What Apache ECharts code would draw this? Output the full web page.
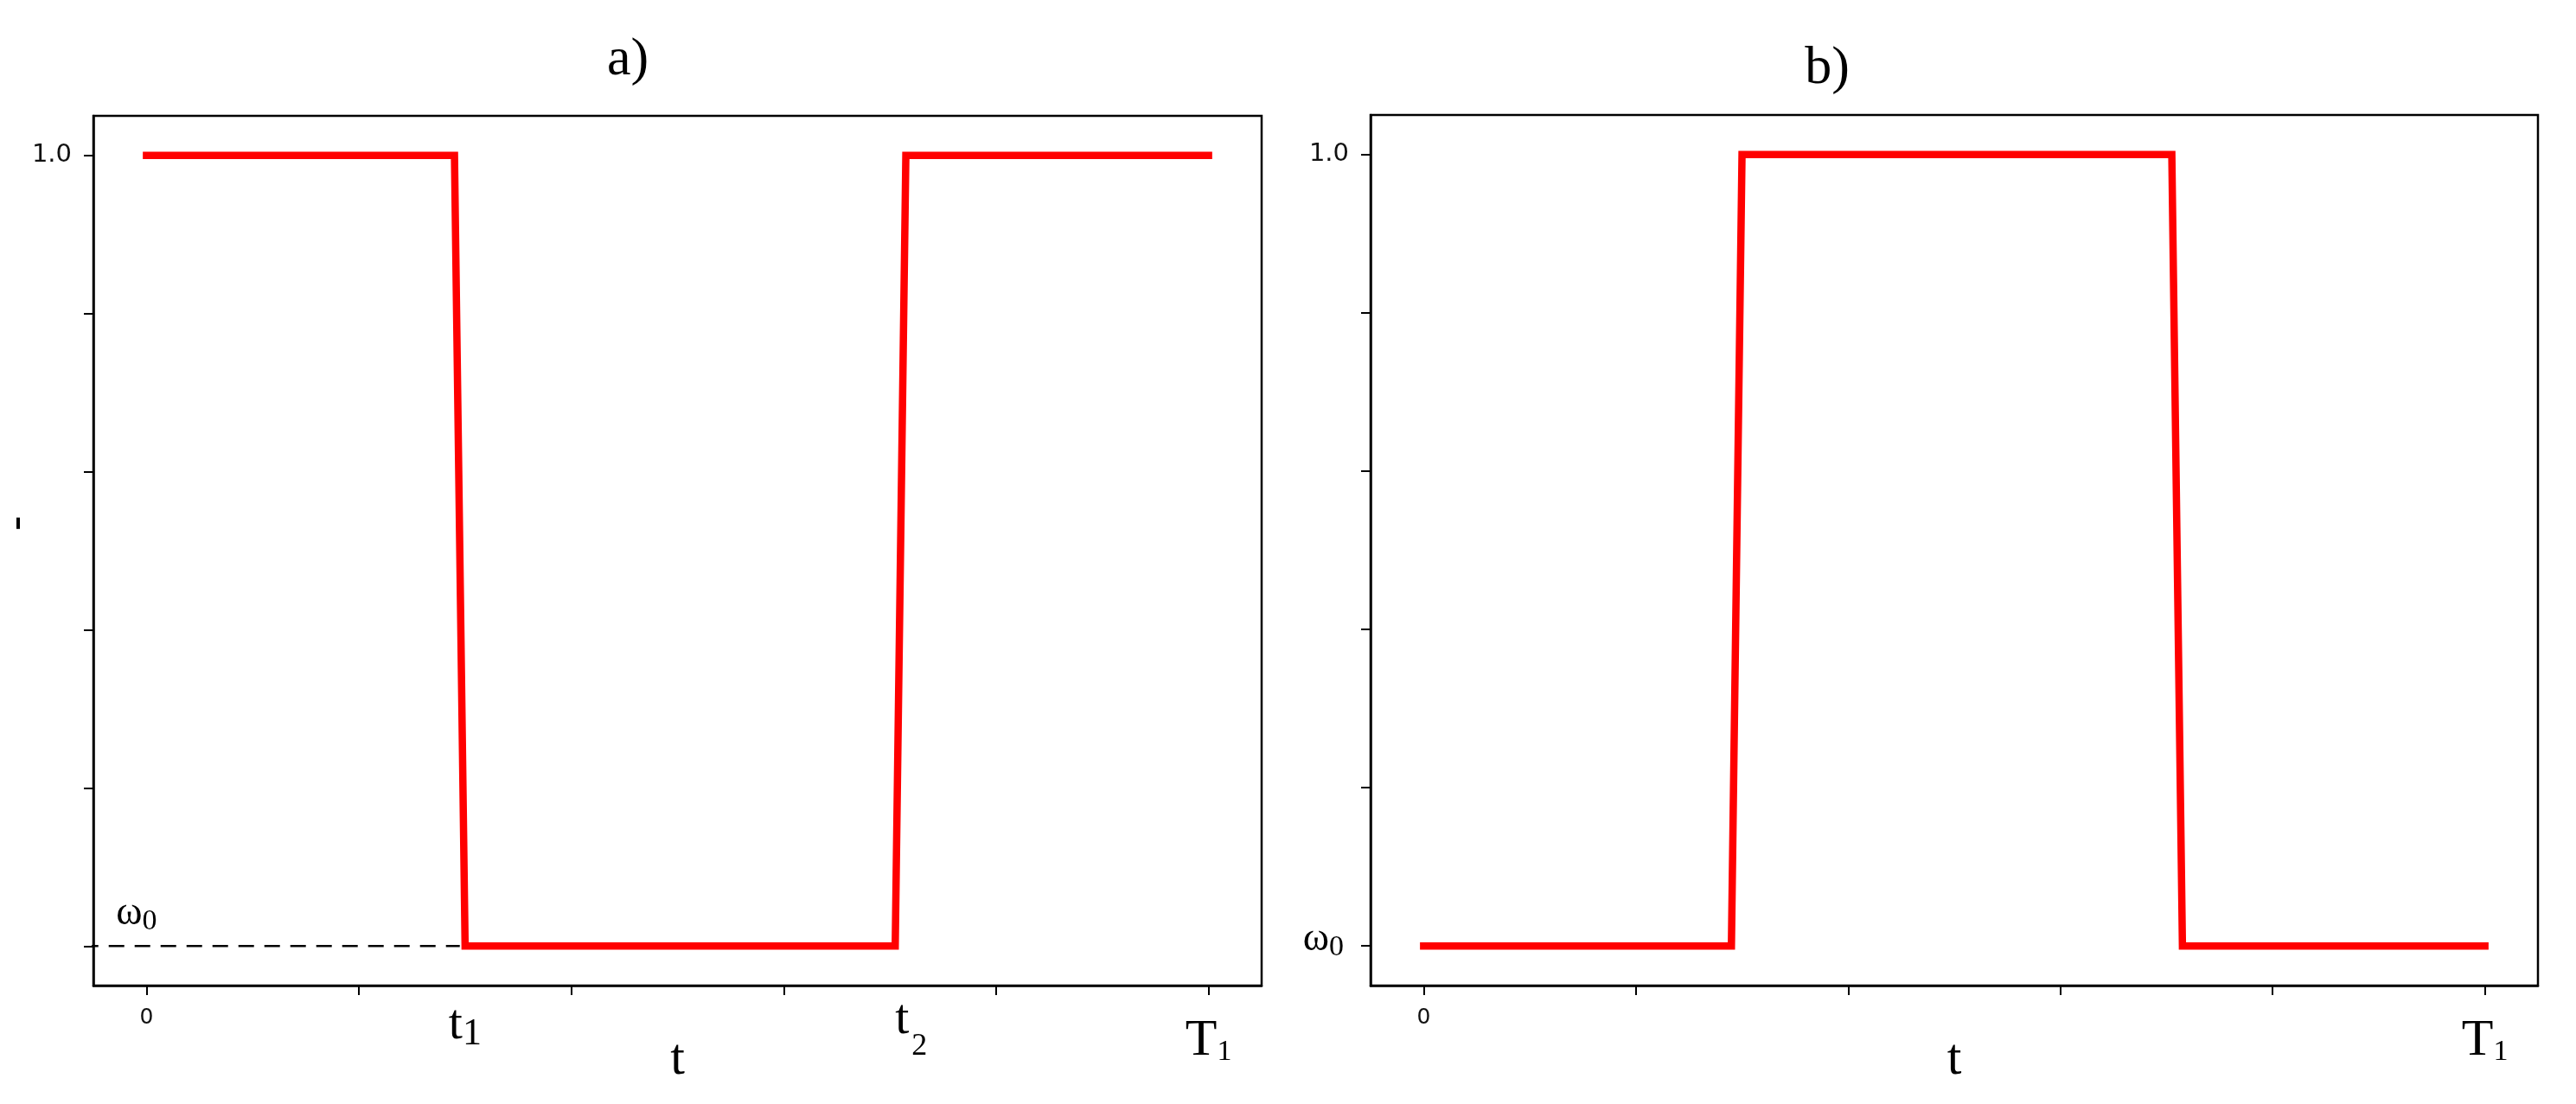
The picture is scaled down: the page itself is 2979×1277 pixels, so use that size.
<!DOCTYPE html>
<html>
<head>
<meta charset="utf-8">
<script src="https://cdn.jsdelivr.net/npm/echarts@6/dist/echarts.min.js"></script>
<style>
  html, body { margin: 0; padding: 0; background: #fff; }
  #chart { width: 2979px; height: 1277px; }
</style>
</head>
<body>
<div id="chart"></div>
<script>
// 横轴：t 归一化到 0..T1(=1)；纵轴：ω0 -> 0, 1.0 -> 1
const panelTitles = ['a)', 'b)']
const seriesA = [[0, 1], [0.29, 1], [0.30, 0], [0.705, 0], [0.715, 1], [1, 1]]
const seriesB = [[0, 0], [0.29, 0], [0.30, 1], [0.705, 1], [0.715, 0], [1, 0]]
const dashedA = [[-0.06, 0], [0.295, 0]]
const xTicks = [0, 0.2, 0.4, 0.6, 0.8, 1.0]
const yTicks = [0, 0.2, 0.4, 0.6, 0.8, 1.0]
const xLabelValuesA = [0, 0.30, 0.72, 1.0]
const xLabelTextA = ['{z|0}', '{t1|t}{s1|1}', '{t2|t}{s2|2}', '{T|T}{s3|1}']
const xLabelValuesB = [0, 1.0]
const xLabelTextB = ['{z|0}', '{T|T}{s3|1}']
const yLabelValuesA = [1.0]
const yLabelTextA = ['1.0']
const yLabelValuesB = [0, 1.0]
const yLabelTextB = ['{w|ω}{s0|0}', '1.0']

const SERIF = 'Liberation Serif'
const SANS = 'DejaVu Sans'

// 同一标签内各片段盒高一致，靠上下 padding 做下标偏移
const richX = {
  z: { fontFamily: SANS, fontSize: 25, lineHeight: 25, color: '#111', padding: [14, 0, 0, 0] },
  t1: { fontFamily: SERIF, fontSize: 58, lineHeight: 56, color: '#000', padding: [2, 0, 2, 0] },
  s1: { fontFamily: SERIF, fontSize: 44, lineHeight: 40, color: '#000', padding: [20, 0, 0, 0] },
  t2: { fontFamily: SERIF, fontSize: 58, lineHeight: 58, color: '#000', padding: [5, 0, 20, 0] },
  s2: { fontFamily: SERIF, fontSize: 36, lineHeight: 36, color: '#000', padding: [47, 0, 0, 3] },
  T: { fontFamily: SERIF, fontSize: 60, lineHeight: 60, color: '#000', padding: [33, 0, 0, 0] },
  s3: { fontFamily: SERIF, fontSize: 34, lineHeight: 34, color: '#000', padding: [59, 0, 0, 0] }
}
const richY = {
  w: { fontFamily: SERIF, fontSize: 46, lineHeight: 46, color: '#000', padding: [0, 0, 14, 0] },
  s0: { fontFamily: SERIF, fontSize: 34, lineHeight: 34, color: '#000', padding: [15, 6, 11, 0] }
}

function pick(values, texts) {
  return v => {
    const i = values.findIndex(x => Math.abs(x - v) < 1e-6)
    return i >= 0 ? texts[i] : ''
  }
}

function xAxisFor(gridIndex, labelValues, labelText) {
  return {
    gridIndex: gridIndex,
    type: 'value',
    min: -0.05,
    max: 1.05,
    name: 't',
    nameLocation: 'middle',
    nameGap: 56,
    nameMoveOverlap: false,
    nameTextStyle: { fontFamily: SERIF, fontSize: 60, lineHeight: 60, color: '#000' },
    axisLine: { show: true, onZero: false, lineStyle: { color: '#000', width: 2.5 } },
    axisTick: { show: true, length: 11, customValues: xTicks, lineStyle: { color: '#000', width: 2 } },
    axisLabel: {
      customValues: labelValues,
      margin: 18,
      formatter: pick(labelValues, labelText),
      rich: richX
    },
    splitLine: { show: false }
  }
}

function yAxisFor(gridIndex, labelValues, labelText, extra) {
  return Object.assign({
    gridIndex: gridIndex,
    type: 'value',
    min: -0.05,
    max: 1.05,
    nameMoveOverlap: false,
    axisLine: { show: true, onZero: false, lineStyle: { color: '#000', width: 2.5 } },
    axisTick: { show: true, length: 11, customValues: yTicks, lineStyle: { color: '#000', width: 2 } },
    axisLabel: {
      customValues: labelValues,
      margin: 25,
      fontFamily: SANS,
      fontSize: 29,
      color: '#111',
      formatter: pick(labelValues, labelText),
      rich: richY
    },
    splitLine: { show: false }
  }, extra || {})
}

const redLine = { color: '#ff0000', width: 8.5, cap: 'square', join: 'miter' }

const chart = echarts.init(document.getElementById('chart'), null, { renderer: 'canvas' })
chart.setOption({
  backgroundColor: '#fff',
  animation: false,
  title: [
    { text: panelTitles[0], left: 721, top: 34, textAlign: 'center',
      textStyle: { fontFamily: SERIF, fontSize: 62, fontWeight: 'normal', color: '#000' } },
    { text: panelTitles[1], left: 2108, top: 44, textAlign: 'center',
      textStyle: { fontFamily: SERIF, fontSize: 62, fontWeight: 'normal', color: '#000' } }
  ],
  grid: [
    { left: 108, top: 134, width: 1351, height: 1006, outerBoundsMode: 'none',
      show: true, borderColor: '#000', borderWidth: 2.5 },
    { left: 1585, top: 133, width: 1350, height: 1007, outerBoundsMode: 'none',
      show: true, borderColor: '#000', borderWidth: 2.5 }
  ],
  xAxis: [
    xAxisFor(0, xLabelValuesA, xLabelTextA),
    xAxisFor(1, xLabelValuesB, xLabelTextB)
  ],
  yAxis: [
    yAxisFor(0, yLabelValuesA, yLabelTextA, {
      name: '    -',
      nameLocation: 'middle',
      nameRotate: 90,
      nameGap: 61,
      nameTextStyle: { fontFamily: SANS, fontSize: 50, color: '#000' }
    }),
    yAxisFor(1, yLabelValuesB, yLabelTextB)
  ],
  series: [
    {
      type: 'line', xAxisIndex: 0, yAxisIndex: 0,
      data: dashedA, clip: false, symbol: 'none', z: 1,
      lineStyle: { color: '#000', width: 2.5, type: [18, 12] },
      markPoint: {
        symbol: 'rect', symbolSize: 0,
        data: [{ coord: [-0.007, 0], value: 'w' }],
        label: {
          show: true,
          position: 'inside',
          offset: [0, -30],
          formatter: '{w|ω}{s0|0}',
          rich: richY
        }
      }
    },
    {
      type: 'line', xAxisIndex: 0, yAxisIndex: 0,
      data: seriesA, symbol: 'none', z: 3, clip: false,
      lineStyle: redLine
    },
    {
      type: 'line', xAxisIndex: 1, yAxisIndex: 1,
      data: seriesB, symbol: 'none', z: 3, clip: false,
      lineStyle: redLine
    }
  ]
})
</script>
</body>
</html>
